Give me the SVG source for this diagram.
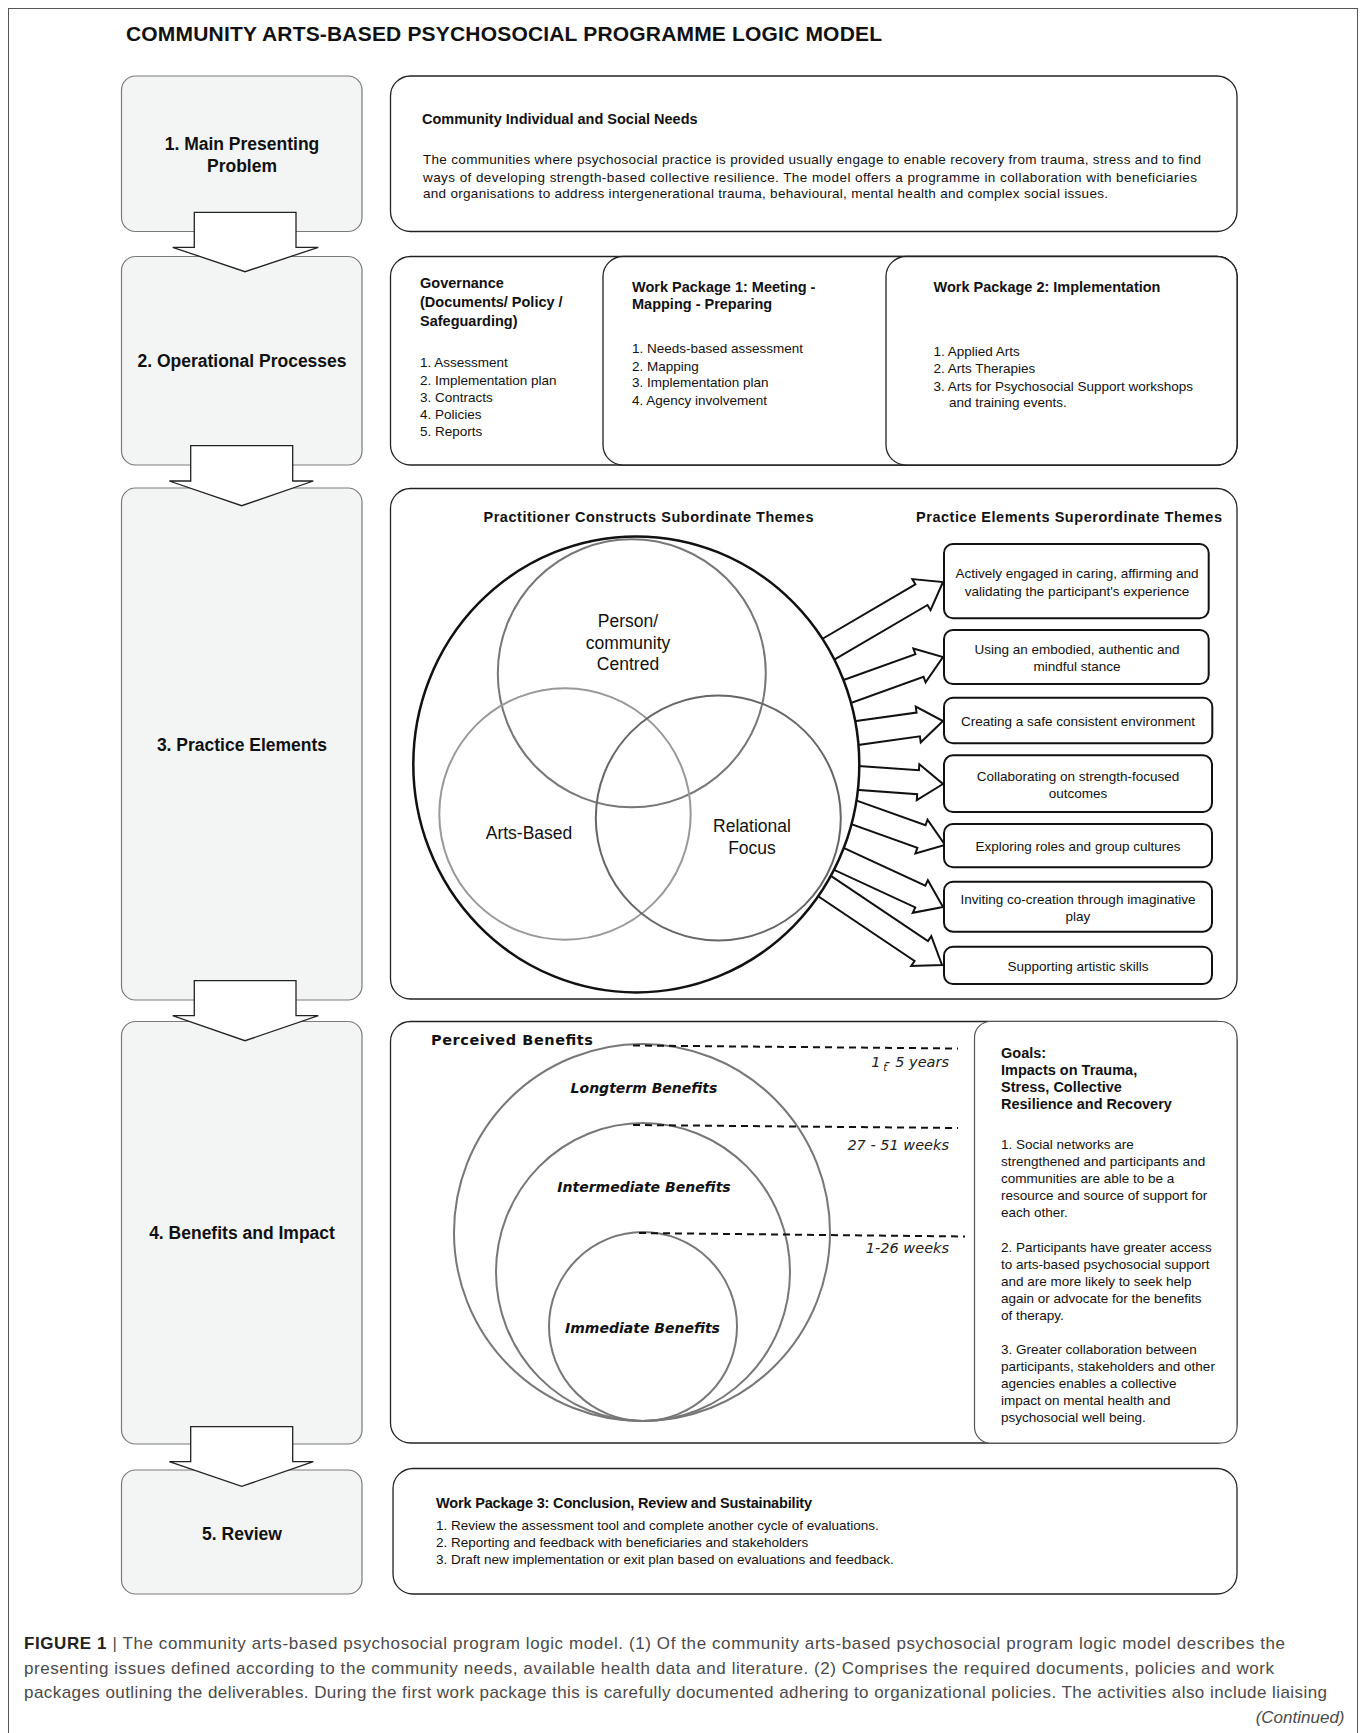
<svg xmlns="http://www.w3.org/2000/svg" width="1360" height="1733" viewBox="0 0 1360 1733">
<style>
text{font-family:"Liberation Sans",Arial,sans-serif;fill:#111}
.t{font-size:21px;font-weight:bold}
.ll{font-size:17.5px;font-weight:bold;text-anchor:middle}
.h{font-size:14.5px;font-weight:bold}
.b{font-size:13.5px}
.bc{font-size:13.5px;text-anchor:middle}
.v{font-size:17.5px;text-anchor:middle}
.dj{font-family:"DejaVu Sans",Verdana,sans-serif}
.bi{font-size:14px;font-weight:bold;font-style:italic;text-anchor:middle}
.yr{font-size:14.5px;font-style:italic;text-anchor:end;fill:#222}
.cap{font-size:17px;fill:#4a4a4a}
.lbox{fill:#f3f5f4;stroke:#7a7a7a;stroke-width:1.2}
.rbox{fill:#fff;stroke:#222;stroke-width:1.3}
.sbox{fill:#fff;stroke:#111;stroke-width:2}
.arr{fill:#fff;stroke:#222;stroke-width:1.3}
.barr{fill:#fff;stroke:#111;stroke-width:2;stroke-linejoin:miter}
.dash{stroke:#111;stroke-width:2;stroke-dasharray:7 5;fill:none}
.ell{fill:none;stroke:#777;stroke-width:2}
</style>
<rect x="0" y="0" width="1360" height="1733" fill="#fff"/>
<rect x="8.5" y="8.5" width="1349" height="1750" fill="none" stroke="#555" stroke-width="1"/>
<text class="t" x="126" y="41" textLength="756">COMMUNITY ARTS-BASED PSYCHOSOCIAL PROGRAMME LOGIC MODEL</text>

<g id="stage1">
<rect class="lbox" x="121.5" y="76" width="240.5" height="155.5" rx="14"/>
<text class="ll" x="242" y="150">1. Main Presenting</text>
<text class="ll" x="242" y="172">Problem</text>
</g>
<g id="stage2">
<rect class="lbox" x="121.5" y="256.5" width="240.5" height="208.5" rx="14"/>
<text class="ll" x="242" y="367">2. Operational Processes</text>
</g>
<g id="stage3">
<rect class="lbox" x="121.5" y="488" width="240.5" height="512" rx="14"/>
<text class="ll" x="242" y="751">3. Practice Elements</text>
</g>
<g id="stage4">
<rect class="lbox" x="121.5" y="1021.5" width="240.5" height="422.5" rx="14"/>
<text class="ll" x="242" y="1239">4. Benefits and Impact</text>
</g>
<g id="stage5">
<rect class="lbox" x="121.5" y="1470" width="240.5" height="124" rx="14"/>
<text class="ll" x="242" y="1539.5">5. Review</text>
</g>

<g id="connectors">
<polygon class="arr" points="194.3,212.3 296,212.3 296,247.3 318.3,247.3 245,271.7 172.7,247.3 194.3,247.3"/>
<polygon class="arr" points="190.7,445.7 292.7,445.7 292.7,481 313.3,481 241.7,505.7 169.3,481 190.7,481"/>
<polygon class="arr" points="194.3,980.7 296,980.7 296,1015.7 318.3,1015.7 245,1040.7 172.7,1015.7 194.3,1015.7"/>
<polygon class="arr" points="190.7,1426.7 292.7,1426.7 292.7,1461.7 313.3,1461.7 241.7,1486.4 169.3,1461.7 190.7,1461.7"/>
</g>

<g id="needs">
<rect class="rbox" x="390.5" y="76" width="846.5" height="155.5" rx="20"/>
<text class="h" x="422" y="123.5">Community Individual and Social Needs</text>
<text class="b" x="423" y="164" textLength="778">The communities where psychosocial practice is provided usually engage to enable recovery from trauma, stress and to find</text>
<text class="b" x="423" y="181.5" textLength="774">ways of developing strength-based collective resilience. The model offers a programme in collaboration with beneficiaries</text>
<text class="b" x="423" y="198" textLength="685">and organisations to address intergenerational trauma, behavioural, mental health and complex social issues.</text>
</g>

<g id="governance">
<rect class="rbox" x="390.5" y="256.5" width="846.5" height="208.5" rx="20"/>
<text class="h" x="420" y="288">Governance</text>
<text class="h" x="420" y="307">(Documents/ Policy /</text>
<text class="h" x="420" y="325.5">Safeguarding)</text>
<text class="b" x="420" y="367">1. Assessment</text>
<text class="b" x="420" y="385">2. Implementation plan</text>
<text class="b" x="420" y="401.5">3. Contracts</text>
<text class="b" x="420" y="419">4. Policies</text>
<text class="b" x="420" y="436">5. Reports</text>
</g>
<g id="wp1">
<rect class="rbox" x="603" y="256.5" width="634" height="208.5" rx="20"/>
<text class="h" x="632" y="291.5">Work Package 1: Meeting -</text>
<text class="h" x="632" y="309">Mapping - Preparing</text>
<text class="b" x="632" y="353">1. Needs-based assessment</text>
<text class="b" x="632" y="370.5">2. Mapping</text>
<text class="b" x="632" y="387">3. Implementation plan</text>
<text class="b" x="632" y="405">4. Agency involvement</text>
</g>
<g id="wp2">
<rect class="rbox" x="886" y="256.5" width="351" height="208.5" rx="20"/>
<text class="h" x="933.5" y="291.5">Work Package 2: Implementation</text>
<text class="b" x="933.5" y="356">1. Applied Arts</text>
<text class="b" x="933.5" y="373">2. Arts Therapies</text>
<text class="b" x="933.5" y="390.5">3. Arts for Psychosocial Support workshops</text>
<text class="b" x="949" y="407">and training events.</text>
</g>

<g id="practice">
<rect class="rbox" x="390.5" y="488.5" width="846.5" height="510.5" rx="20"/>
<text class="h" x="483.5" y="522" textLength="330">Practitioner Constructs Subordinate Themes</text>
<text class="h" x="916" y="522" textLength="306">Practice Elements Superordinate Themes</text>
</g>

<g id="practice-arrows">
<polygon class="barr" transform="translate(943,582) rotate(-30.4)" points="-140,-12 -25,-12 -25,-18 0,0 -25,18 -25,12 -140,12"/>
<polygon class="barr" transform="translate(943,657) rotate(-19.8)" points="-108,-12 -25,-12 -25,-18 0,0 -25,18 -25,12 -108,12"/>
<polygon class="barr" transform="translate(943,721) rotate(-8)" points="-95,-12 -25,-12 -25,-18 0,0 -25,18 -25,12 -95,12"/>
<polygon class="barr" transform="translate(943,784) rotate(4.1)" points="-93,-12 -25,-12 -25,-18 0,0 -25,18 -25,12 -93,12"/>
<polygon class="barr" transform="translate(945,845) rotate(19.7)" points="-104,-12 -25,-12 -25,-18 0,0 -25,18 -25,12 -104,12"/>
<polygon class="barr" transform="translate(943,907) rotate(24.8)" points="-124,-12 -25,-12 -25,-18 0,0 -25,18 -25,12 -124,12"/>
<polygon class="barr" transform="translate(942,965) rotate(33.9)" points="-150,-12 -25,-12 -25,-18 0,0 -25,18 -25,12 -150,12"/>
</g>

<g id="venn">
<ellipse cx="636.3" cy="764.4" rx="223" ry="228" fill="#fff" stroke="#111" stroke-width="2.5"/>
<circle cx="631.8" cy="673.3" r="134" fill="none" stroke="#777" stroke-width="2"/>
<circle cx="565" cy="814" r="125.7" fill="none" stroke="#999" stroke-width="2"/>
<circle cx="718.3" cy="818" r="122.5" fill="none" stroke="#666" stroke-width="2"/>
<text class="v" x="628" y="627">Person/</text>
<text class="v" x="628" y="648.5">community</text>
<text class="v" x="628" y="669.5">Centred</text>
<text class="v" x="529" y="839">Arts-Based</text>
<text class="v" x="752" y="832">Relational</text>
<text class="v" x="752" y="853.5">Focus</text>
</g>

<g id="pe1"><rect class="sbox" x="944" y="544" width="264.7" height="74.3" rx="9"/>
<text class="bc" x="1077" y="578">Actively engaged in caring, affirming and</text>
<text class="bc" x="1077" y="595.5">validating the participant's experience</text></g>
<g id="pe2"><rect class="sbox" x="944" y="630" width="264.7" height="54" rx="9"/>
<text class="bc" x="1077" y="654">Using an embodied, authentic and</text>
<text class="bc" x="1077" y="670.5">mindful stance</text></g>
<g id="pe3"><rect class="sbox" x="944" y="697.7" width="268.3" height="45.6" rx="9"/>
<text class="bc" x="1078" y="726">Creating a safe consistent environment</text></g>
<g id="pe4"><rect class="sbox" x="944" y="755.3" width="268" height="56.7" rx="9"/>
<text class="bc" x="1078" y="781">Collaborating on strength-focused</text>
<text class="bc" x="1078" y="798">outcomes</text></g>
<g id="pe5"><rect class="sbox" x="944" y="824" width="268" height="43.3" rx="9"/>
<text class="bc" x="1078" y="851">Exploring roles and group cultures</text></g>
<g id="pe6"><rect class="sbox" x="944" y="881.7" width="268" height="50" rx="9"/>
<text class="bc" x="1078" y="904">Inviting co-creation through imaginative</text>
<text class="bc" x="1078" y="921">play</text></g>
<g id="pe7"><rect class="sbox" x="944" y="946.7" width="268" height="37.3" rx="9"/>
<text class="bc" x="1078" y="970.5">Supporting artistic skills</text></g>

<g id="benefits">
<rect class="rbox" x="390.5" y="1021.5" width="846.5" height="421.5" rx="20"/>
<text class="h dj" x="431" y="1045" font-size="15" textLength="162">Perceived Benefits</text>
<ellipse class="ell" cx="642" cy="1232.5" rx="188" ry="188.5"/>
<ellipse class="ell" cx="643" cy="1272" rx="147" ry="149"/>
<ellipse class="ell" cx="643" cy="1326.5" rx="94" ry="94.5"/>
<line class="dash" x1="633" y1="1045.5" x2="958" y2="1048.5"/>
<line class="dash" x1="633" y1="1125" x2="958" y2="1128"/>
<line class="dash" x1="639" y1="1233" x2="965" y2="1236.5"/>
<text class="dj yr" x="949" y="1066.5">1 -<tspan font-size="10" dx="-7" dy="4">t</tspan><tspan dx="8" dy="-4">5 years</tspan></text>
<text class="dj yr" x="949" y="1150">27 - 51 weeks</text>
<text class="dj yr" x="949" y="1252.5">1-26 weeks</text>
<text class="dj bi" x="644" y="1092.5">Longterm Benefits</text>
<text class="dj bi" x="644" y="1192">Intermediate Benefits</text>
<text class="dj bi" x="642.5" y="1332.5">Immediate Benefits</text>
</g>

<g id="goals">
<rect x="974.5" y="1021.5" width="262.5" height="421.5" rx="16" fill="#fff" stroke="#555" stroke-width="1.2"/>
<text class="h" x="1001" y="1058" font-size="13.5">Goals:</text>
<text class="h" x="1001" y="1075" font-size="13.5">Impacts on Trauma,</text>
<text class="h" x="1001" y="1092" font-size="13.5">Stress, Collective</text>
<text class="h" x="1001" y="1109" font-size="13.5">Resilience and Recovery</text>
<text class="b" x="1001" y="1148.5">1. Social networks are</text>
<text class="b" x="1001" y="1165.5">strengthened and participants and</text>
<text class="b" x="1001" y="1182.5">communities are able to be a</text>
<text class="b" x="1001" y="1199.5">resource and source of support for</text>
<text class="b" x="1001" y="1216.5">each other.</text>
<text class="b" x="1001" y="1251.5">2. Participants have greater access</text>
<text class="b" x="1001" y="1268.5">to arts-based psychosocial support</text>
<text class="b" x="1001" y="1285.5">and are more likely to seek help</text>
<text class="b" x="1001" y="1302.5">again or advocate for the benefits</text>
<text class="b" x="1001" y="1319.5">of therapy.</text>
<text class="b" x="1001" y="1353.5">3. Greater collaboration between</text>
<text class="b" x="1001" y="1370.5">participants, stakeholders and other</text>
<text class="b" x="1001" y="1387.5">agencies enables a collective</text>
<text class="b" x="1001" y="1404.5">impact on mental health and</text>
<text class="b" x="1001" y="1421.5">psychosocial well being.</text>
</g>

<g id="review">
<rect class="rbox" x="393" y="1468.5" width="844" height="125.5" rx="20"/>
<text class="h" x="436" y="1508" font-size="13" textLength="376">Work Package 3: Conclusion, Review and Sustainability</text>
<text class="b" x="436" y="1530" font-size="13">1. Review the assessment tool and complete another cycle of evaluations.</text>
<text class="b" x="436" y="1547" font-size="13">2. Reporting and feedback with beneficiaries and stakeholders</text>
<text class="b" x="436" y="1564" font-size="13">3. Draft new implementation or exit plan based on evaluations and feedback.</text>
</g>

<g id="caption">
<text class="cap" x="24" y="1649" textLength="1261"><tspan font-weight="bold" fill="#222">FIGURE 1</tspan> | The community arts-based psychosocial program logic model. (1) Of the community arts-based psychosocial program logic model describes the</text>
<text class="cap" x="24" y="1673.5" textLength="1250">presenting issues defined according to the community needs, available health data and literature. (2) Comprises the required documents, policies and work</text>
<text class="cap" x="24" y="1698" textLength="1303">packages outlining the deliverables. During the first work package this is carefully documented adhering to organizational policies. The activities also include liaising</text>
<text class="cap" x="1344.5" y="1722.5" text-anchor="end" font-style="italic">(Continued)</text>
</g>
</svg>
